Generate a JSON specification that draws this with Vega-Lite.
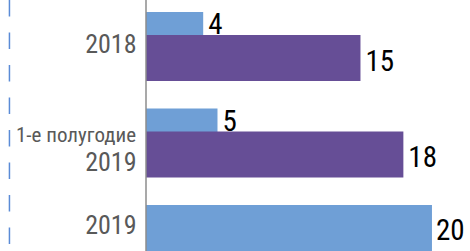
{
  "$schema": "https://vega.github.io/schema/vega-lite/v6.json",
  "width": 324,
  "height": 251,
  "autosize": "none",
  "padding": {"left": 146, "top": 0, "right": 0, "bottom": 0},
  "config": {"view": {"stroke": null}},
  "datasets": {
    "bars": [
      {"cat": "2018", "series": "s1", "value": 4},
      {"cat": "2018", "series": "s2", "value": 15},
      {"cat": "1-е полугодие 2019", "series": "s1", "value": 5},
      {"cat": "1-е полугодие 2019", "series": "s2", "value": 18},
      {"cat": "2019", "series": "s1", "value": 20}
    ],
    "extra": [
      {"cat": "1-е полугодие 2019", "line": "1-е полугодие"}
    ]
  },
  "layer": [
    {
      "layer": [
        {
          "data": {"name": "bars"},
          "transform": [{"filter": "datum.series == 's1'"}],
          "mark": {"type": "bar", "color": "#6F9FD6"},
          "encoding": {
            "x": {"field": "value", "type": "quantitative", "scale": {"domain": [0, 22.66], "nice": false}, "axis": null},
            "y": {
              "field": "cat", "type": "nominal",
              "scale": {"domain": ["2018", "1-е полугодие 2019", "2019"], "range": [12, 251], "paddingInner": 0.523, "paddingOuter": 0},
              "axis": {
                "title": null, "domain": false, "ticks": false,
                "labelFont": "Roboto Condensed, Arial Narrow, Liberation Sans Narrow, sans-serif",
                "labelFontSize": 26, "labelColor": "#595959", "labelPadding": 10,
                "labelAlign": "right", "labelBaseline": "middle",
                "labelExpr": "datum.value == '1-е полугодие 2019' ? '2019' : datum.label",
                "labelOffset": {"condition": [{"test": "datum.value == '2018'", "value": 9.5}, {"test": "datum.value == '2019'", "value": -1.5}], "value": 31.5}
              }
            }
          }
        },
        {
          "data": {"name": "bars"},
          "transform": [{"filter": "datum.series == 's1' && datum.cat != '2019'"}],
          "mark": {"type": "text", "align": "left", "baseline": "middle", "dx": 5, "font": "Roboto Condensed, Arial Narrow, Liberation Sans Narrow, sans-serif", "fontSize": 29, "color": "#000000"},
          "encoding": {
            "x": {"field": "value", "type": "quantitative"},
            "y": {"field": "cat", "type": "nominal", "bandPosition": 0.29},
            "text": {"field": "value", "type": "quantitative"}
          }
        },
        {
          "data": {"name": "bars"},
          "transform": [{"filter": "datum.series == 's1' && datum.cat == '2019'"}],
          "mark": {"type": "text", "align": "left", "baseline": "middle", "dx": 4, "font": "Roboto Condensed, Arial Narrow, Liberation Sans Narrow, sans-serif", "fontSize": 29, "color": "#000000"},
          "encoding": {
            "x": {"field": "value", "type": "quantitative"},
            "y": {"field": "cat", "type": "nominal", "bandPosition": 0.56},
            "text": {"field": "value", "type": "quantitative"}
          }
        },
        {
          "data": {"name": "extra"},
          "mark": {"type": "text", "align": "right", "baseline": "middle", "font": "Roboto Condensed, Arial Narrow, Liberation Sans Narrow, sans-serif", "fontSize": 21, "color": "#595959"},
          "encoding": {
            "x": {"datum": -0.7},
            "y": {"field": "cat", "type": "nominal", "bandPosition": 0.6},
            "text": {"field": "line", "type": "nominal"}
          }
        }
      ]
    },
    {
      "layer": [
        {
          "data": {"name": "bars"},
          "transform": [{"filter": "datum.series == 's2'"}],
          "mark": {"type": "bar", "color": "#664E96"},
          "encoding": {
            "x": {"field": "value", "type": "quantitative"},
            "y": {
              "field": "cat", "type": "nominal",
              "scale": {"domain": ["2018", "1-е полугодие 2019", "2019"], "range": [35, 274], "paddingInner": 0.523, "paddingOuter": 0},
              "axis": null
            }
          }
        },
        {
          "data": {"name": "bars"},
          "transform": [{"filter": "datum.series == 's2'"}],
          "mark": {"type": "text", "align": "left", "baseline": "middle", "dx": 5, "font": "Roboto Condensed, Arial Narrow, Liberation Sans Narrow, sans-serif", "fontSize": 29, "color": "#000000"},
          "encoding": {
            "x": {"field": "value", "type": "quantitative"},
            "y": {"field": "cat", "type": "nominal", "bandPosition": 0.58},
            "text": {"field": "value", "type": "quantitative"}
          }
        }
      ]
    },
    {
      "data": {"values": [{"v": 0}]},
      "mark": {"type": "rule", "color": "#8C8C8C", "strokeWidth": 1.5},
      "encoding": {"x": {"field": "v", "type": "quantitative"}}
    },
    {
      "data": {"values": [{"v": -9.55}]},
      "mark": {"type": "rule", "color": "#5B8BD6", "strokeWidth": 1.5, "strokeDash": [16.5, 16]},
      "encoding": {"x": {"field": "v", "type": "quantitative"}}
    }
  ],
  "resolve": {"scale": {"y": "independent"}, "axis": {"y": "independent"}}
}
